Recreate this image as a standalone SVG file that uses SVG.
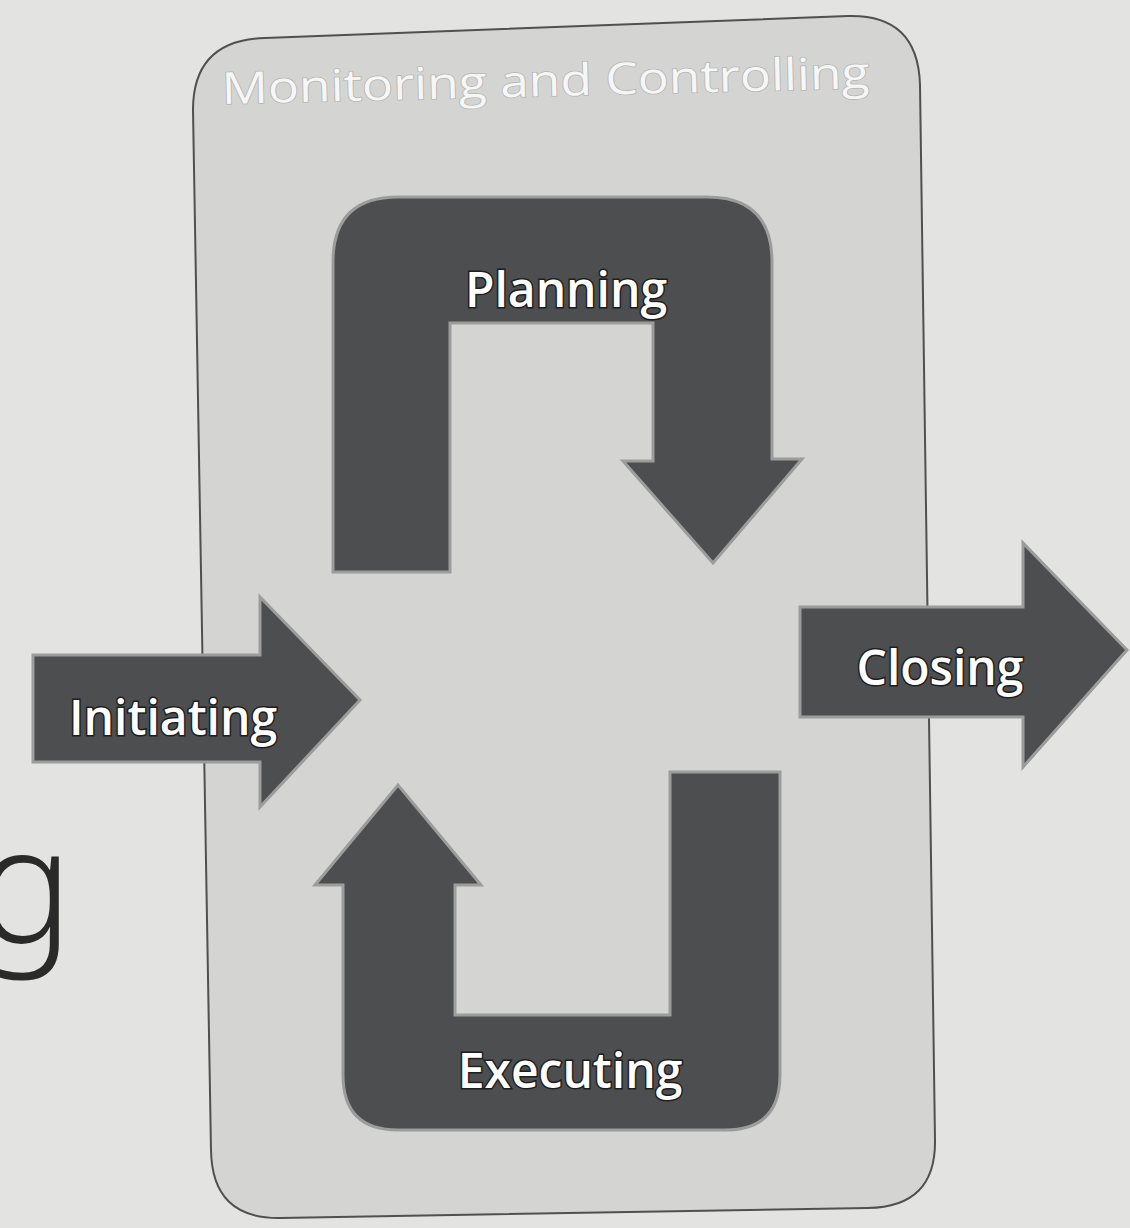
<svg xmlns="http://www.w3.org/2000/svg" width="1130" height="1228" viewBox="0 0 1130 1228">
  <defs>
    <style>
      .arrow { fill: #4c4e50; stroke: #9c9c9c; stroke-width: 3; stroke-linejoin: miter; }
      .label { font-family: "Open Sans", "Noto Sans", "DejaVu Sans", sans-serif; font-weight: 600; font-size: 48px; fill: #ffffff; stroke: #1e1e1e; stroke-width: 3; paint-order: stroke; }
      .title { font-family: "Open Sans", "Noto Sans", "DejaVu Sans", sans-serif; font-weight: 400; font-size: 44px; fill: #f6f6f6; stroke: #b4b4b4; stroke-width: 1.5; paint-order: stroke; }
    </style>
  </defs>

  <rect x="0" y="0" width="1130" height="1228" fill="#e3e3e1"/>

  <text x="-23" y="942" font-family="Noto Sans, Roboto, DejaVu Sans, sans-serif" font-weight="300" font-size="160" fill="#2a2a2a">g</text>

  <g id="monitoring-controlling">
    <path d="M 193 110 Q 193 40 265 38 L 848 16 Q 918 14 920 85 L 935 1140 Q 936 1207 868 1208 L 280 1218 Q 212 1219 211 1150 Z" fill="#d4d4d2" stroke="#505050" stroke-width="2"/>
    <text class="title" x="222" y="104" textLength="648" lengthAdjust="spacingAndGlyphs" transform="rotate(-1.4 222 104)">Monitoring and Controlling</text>
  </g>

  <g id="connectors"></g>

  <g id="planning">
    <path class="arrow" d="M 333 572 L 333 262 Q 333 197 398 197 L 707 197 Q 772 197 772 262 L 772 459 L 802 459 L 713 563 L 623 461 L 653 461 L 653 323 L 450 323 L 450 572 Z"/>
    <text class="label" x="566" y="307" text-anchor="middle">Planning</text>
  </g>

  <g id="executing">
    <path class="arrow" d="M 780 772 L 780 1075 Q 780 1130 725 1130 L 398 1130 Q 343 1130 343 1075 L 343 885 L 315 885 L 398 785 L 481 885 L 455 885 L 455 1015 L 670 1015 L 670 772 Z"/>
    <text class="label" x="570" y="1088" text-anchor="middle">Executing</text>
  </g>

  <g id="initiating">
    <path class="arrow" d="M 33 655 L 260 655 L 260 597 L 360 700 L 260 807 L 260 762 L 33 762 Z"/>
    <text class="label" x="173" y="735" text-anchor="middle">Initiating</text>
  </g>

  <g id="closing">
    <path class="arrow" d="M 800 607 L 1023 607 L 1023 543 L 1127 650 L 1023 767 L 1023 717 L 800 717 Z"/>
    <text class="label" x="940" y="685" text-anchor="middle">Closing</text>
  </g>
</svg>
